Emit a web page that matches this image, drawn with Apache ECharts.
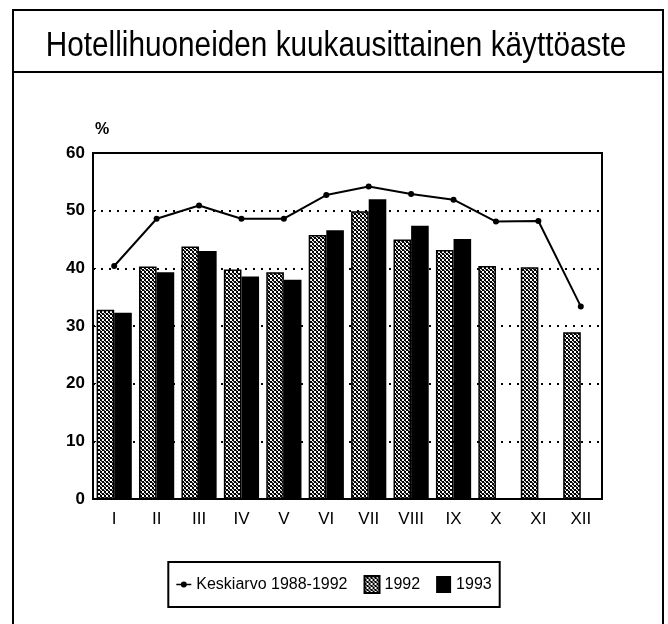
<!DOCTYPE html>
<html>
<head>
<meta charset="utf-8">
<script src="https://cdn.jsdelivr.net/npm/echarts@6/dist/echarts.min.js"></script>
<style>
html,body{margin:0;padding:0;background:#fff;}
#c{width:668px;height:624px;}
</style>
</head>
<body>
<div id="c"></div>
<script>
const titleText = 'Hotellihuoneiden kuukausittainen käyttöaste';
const categories = ['I','II','III','IV','V','VI','VII','VIII','IX','X','XI','XII'];
const avg8892 = [40.4, 48.6, 50.9, 48.6, 48.6, 52.7, 54.2, 52.9, 51.9, 48.1, 48.2, 33.4];
const y1992 = [32.8, 40.3, 43.8, 39.8, 39.3, 45.8, 49.9, 45.0, 43.2, 40.4, 40.2, 28.9];
const y1993 = [32.3, 39.3, 43.0, 38.6, 38.0, 46.6, 52.0, 47.4, 45.1, null, null, null];
const yTicks = [0, 10, 20, 30, 40, 50, 60];
const seriesNames = ['Keskiarvo 1988-1992', '1992', '1993'];

// dithered gray pattern for the 1992 bars
const pc = document.createElement('canvas');
pc.width = 4; pc.height = 4;
const pctx = pc.getContext('2d');
pctx.fillStyle = '#fff'; pctx.fillRect(0,0,4,4);
pctx.fillStyle = '#000';
[[0,0],[1,0],[2,1],[3,1],[2,2],[3,2],[0,3],[1,3]].forEach(p => pctx.fillRect(p[0],p[1],1,1));
pctx.fillStyle = '#555';
[[1,1],[0,2]].forEach(p => pctx.fillRect(p[0],p[1],1,1));
const pattern = {image: pc, repeat: 'repeat'};

const chart = echarts.init(document.getElementById('c'));
const sans = "'Liberation Sans', Arial, sans-serif";
const lineIcon = 'path://M0,4H20V6H0Z M6,5A4,4 0 1,1 14,5A4,4 0 1,1 6,5Z';

chart.setOption({
  animation: false,
  backgroundColor: '#fff',
  graphic: [
    {type: 'rect', shape: {x: 13, y: 10, width: 650, height: 640}, style: {fill: 'none', stroke: '#000', lineWidth: 2}, z: 100},
    {type: 'line', shape: {x1: 13, y1: 72, x2: 663, y2: 72}, style: {stroke: '#000', lineWidth: 2}, z: 100},
    {type: 'text', x: 336, y: 46, scaleX: 0.85,
      style: {text: titleText, font: "35px 'Liberation Sans', Arial, sans-serif", fill: '#000', textAlign: 'center', textVerticalAlign: 'middle'}},
    {type: 'text', x: 95, y: 122, style: {text: '%', font: "bold 16px 'Liberation Sans', Arial, sans-serif", fill: '#000'}}
  ],
  legend: {
    top: 562,
    left: 'center',
    data: [
      {name: seriesNames[0], icon: lineIcon, itemStyle: {color: '#000', borderWidth: 0}},
      {name: seriesNames[1], icon: 'rect'},
      {name: seriesNames[2], icon: 'rect'}
    ],
    itemWidth: 15,
    itemHeight: 17,
    itemGap: 16,
    padding: [13, 8],
    borderColor: '#000',
    borderWidth: 2,
    borderRadius: 0,
    textStyle: {fontFamily: sans, fontSize: 16, color: '#000'}
  },
  grid: {
    left: 93, right: 66, top: 153, bottom: 125,
    show: true, borderColor: '#000', borderWidth: 2, backgroundColor: 'transparent'
  },
  xAxis: {
    type: 'category',
    data: categories,
    axisLine: {lineStyle: {color: '#000', width: 2}},
    axisTick: {show: false},
    axisLabel: {fontFamily: sans, fontSize: 17, color: '#000', margin: 12}
  },
  yAxis: {
    type: 'value',
    min: 0, max: 60, interval: 10,
    axisLine: {show: true, lineStyle: {color: '#000', width: 2}},
    axisTick: {show: true, inside: true, length: 3, lineStyle: {color: '#000'}},
    axisLabel: {
      fontFamily: sans, fontWeight: 'bold', fontSize: 17, color: '#000', margin: 8,
      formatter: v => yTicks.indexOf(v) >= 0 ? String(v) : ''
    },
    splitLine: {show: true, lineStyle: {color: '#000', type: [2, 6], width: 2}}
  },
  series: [
    {
      name: seriesNames[0], type: 'line', data: avg8892,
      symbol: 'circle', symbolSize: 6, z: 5,
      lineStyle: {color: '#000', width: 2},
      itemStyle: {color: '#000'}
    },
    {
      name: seriesNames[1], type: 'bar', data: y1992,
      barGap: '0%', barCategoryGap: '17%',
      itemStyle: {color: pattern, borderColor: '#000', borderWidth: 1.5}
    },
    {
      name: seriesNames[2], type: 'bar', data: y1993,
      barGap: '0%', barCategoryGap: '17%',
      itemStyle: {color: '#000'}
    }
  ]
});
</script>
</body>
</html>
